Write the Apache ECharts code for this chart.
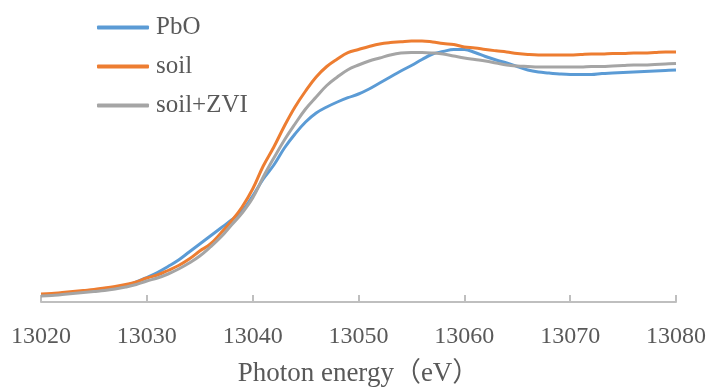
<!DOCTYPE html>
<html>
<head>
<meta charset="utf-8">
<script src="https://cdn.jsdelivr.net/npm/echarts@6/dist/echarts.min.js"></script>
<style>
  html, body { margin: 0; padding: 0; background: #fff; }
  #chart { width: 709px; height: 387px; }
</style>
</head>
<body>
<div id="chart"></div>
<script>
// 光子能量 (eV), 每 1 eV 一个点
const energy = [];
for (let e = 13020; e <= 13080; e++) energy.push(e);

const seriesNames = ["PbO", "soil", "soil+ZVI"];
const xTicks = [13020, 13030, 13040, 13050, 13060, 13070, 13080];

// 归一化吸收
const pbo = [
  0.035, 0.0375, 0.0425, 0.0475, 0.0525, 0.0575, 0.065, 0.0725, 0.0825, 0.10,
  0.1225, 0.1475, 0.1775, 0.21, 0.25, 0.29, 0.33, 0.37, 0.41, 0.455,
  0.53, 0.615, 0.685, 0.77, 0.84, 0.90, 0.945, 0.975, 1.00, 1.0215,
  1.04, 1.065, 1.095, 1.125, 1.155, 1.1825, 1.2125, 1.24, 1.2525, 1.2625,
  1.2625, 1.2475, 1.2275, 1.21, 1.195, 1.1775, 1.16, 1.15, 1.145, 1.14,
  1.1375, 1.1375, 1.1375, 1.1425, 1.145, 1.1475, 1.15, 1.1525, 1.155, 1.1575,
  1.16
];
const soil = [
  0.04, 0.0425, 0.0475, 0.0525, 0.0575, 0.0625, 0.07, 0.0775, 0.0875, 0.10,
  0.12, 0.135, 0.1575, 0.1825, 0.215, 0.255, 0.29, 0.345, 0.405, 0.475,
  0.565, 0.68, 0.775, 0.88, 0.975, 1.055, 1.125, 1.1775, 1.215, 1.247,
  1.2625, 1.2775, 1.29, 1.297, 1.301, 1.305, 1.305, 1.30, 1.2925, 1.2875,
  1.275, 1.27, 1.2625, 1.256, 1.25, 1.2425, 1.2375, 1.235, 1.235, 1.235,
  1.235, 1.2375, 1.24, 1.24, 1.2425, 1.2425, 1.245, 1.245, 1.2475, 1.25,
  1.25
];
const soilZvi = [
  0.03, 0.0325, 0.0375, 0.0425, 0.0475, 0.0525, 0.0575, 0.065, 0.075, 0.0875,
  0.105, 0.12, 0.14, 0.165, 0.195, 0.23, 0.275, 0.325, 0.385, 0.445,
  0.52, 0.625, 0.72, 0.81, 0.89, 0.965, 1.025, 1.0825, 1.125, 1.1615,
  1.185, 1.205, 1.22, 1.235, 1.245, 1.2475, 1.2475, 1.245, 1.24, 1.23,
  1.22, 1.2125, 1.205, 1.195, 1.185, 1.18, 1.1775, 1.175, 1.175, 1.175,
  1.175, 1.175, 1.1775, 1.1775, 1.18, 1.1825, 1.185, 1.185, 1.1875, 1.19,
  1.1925
];

const colors = ["#5B9BD5", "#ED7D31", "#A5A5A5"];
const serif = '"Liberation Serif", "Noto Sans CJK JP", serif';

const chart = echarts.init(document.getElementById("chart"));

const makeSeries = (name, values, color) => ({
  name,
  type: "line",
  data: energy.map((e, i) => [e, values[i]]),
  showSymbol: false,
  symbol: "none",
  smooth: 0.4,
  lineStyle: { color, width: 3 },
  itemStyle: { color },
});

chart.setOption({
  animation: false,
  backgroundColor: "#fff",
  grid: { left: 41, right: 33, top: 2, bottom: 85, outerBoundsMode: "none" },
  legend: {
    orient: "vertical",
    left: 92,
    top: 10,
    icon: "roundRect",
    itemWidth: 52,
    itemHeight: 4,
    itemGap: 14,
    data: seriesNames,
    textStyle: { fontFamily: serif, fontSize: 25, color: "#595959", padding: [0, 0, 0, 2] },
  },
  xAxis: {
    type: "value",
    min: xTicks[0],
    max: xTicks[xTicks.length - 1],
    interval: 10,
    name: "Photon energy（eV）",
    nameLocation: "middle",
    nameGap: 58,
    nameTextStyle: { fontFamily: serif, fontSize: 27, color: "#595959" },
    axisLine: { show: true, lineStyle: { color: "#BFBFBF", width: 2 } },
    axisTick: { show: true, inside: true, length: 7, lineStyle: { color: "#BFBFBF", width: 2 } },
    splitLine: { show: false },
    axisLabel: {
      margin: 23,
      fontFamily: serif,
      fontSize: 24,
      color: "#595959",
      formatter: (v) => String(v),
    },
  },
  yAxis: {
    type: "value",
    min: 0,
    max: 1.5,
    show: false,
    splitLine: { show: false },
  },
  series: [
    makeSeries(seriesNames[0], pbo, colors[0]),
    makeSeries(seriesNames[1], soil, colors[1]),
    makeSeries(seriesNames[2], soilZvi, colors[2]),
  ],
});
</script>
</body>
</html>
